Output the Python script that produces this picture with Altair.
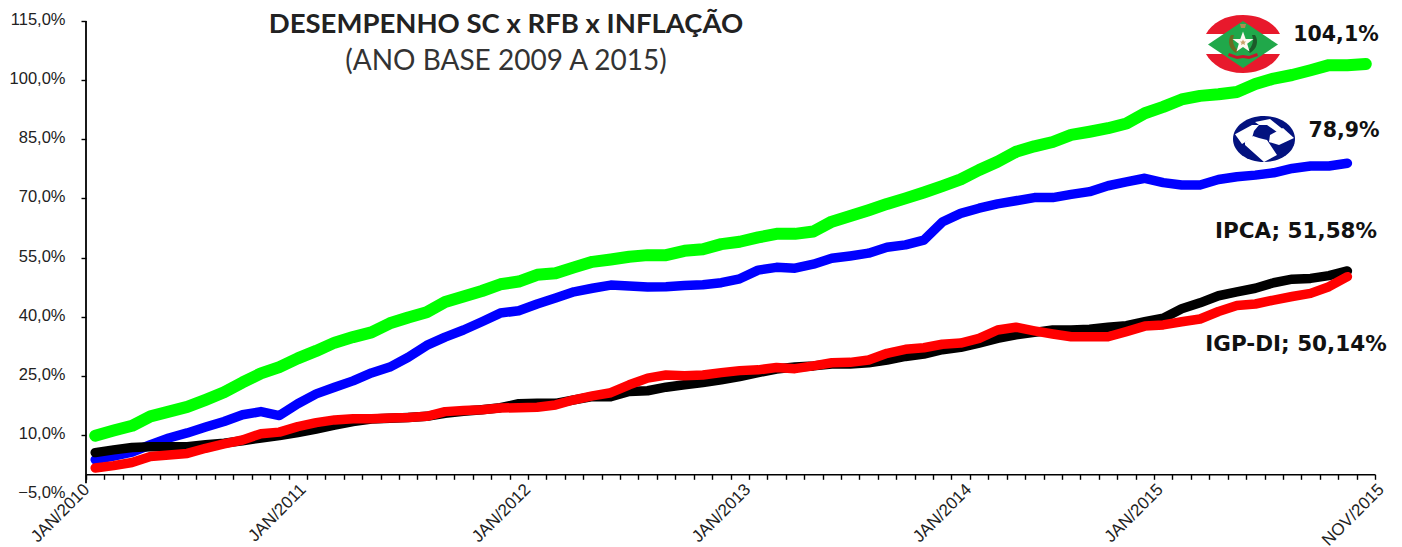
import altair as alt
import pandas as pd

SC = [9.8, 11.1, 12.3, 14.7, 15.9, 17.1, 18.9, 20.8, 23.3, 25.6, 27.2, 29.4, 31.3, 33.4, 34.8, 36.0, 38.3, 39.8, 41.1,
      43.7, 45.1, 46.5, 48.2, 48.9, 50.6, 51.0, 52.5, 53.9, 54.5, 55.2, 55.6, 55.6, 56.7, 57.1, 58.4, 59.0, 60.1,
      61.0, 61.0, 61.6, 64.1, 65.5, 67.0, 68.6, 70.0, 71.5, 73.1, 74.8, 77.2, 79.3, 81.8, 83.2, 84.3,
      86.1, 86.9, 87.8, 89.0, 91.6, 93.2, 95.1, 96.0, 96.4, 97.0, 99.0, 100.4, 101.3, 102.5, 103.8, 103.8, 104.1]
RFB = [3.7, 4.6, 5.6, 7.5, 9.2, 10.5, 12.0, 13.4, 15.1, 15.9, 14.9, 17.9, 20.4, 22.1, 23.7, 25.7, 27.2, 29.7, 32.7,
       34.8, 36.6, 38.7, 40.9, 41.5, 43.2, 44.7, 46.3, 47.2, 48.0, 47.8, 47.5, 47.6, 47.9, 48.1, 48.6, 49.6, 51.8,
       52.5, 52.3, 53.3, 54.8, 55.4, 56.1, 57.6, 58.2, 59.4, 64.0, 66.2, 67.5, 68.6, 69.4, 70.2, 70.2,
       71.0, 71.7, 73.2, 74.2, 75.1, 74.0, 73.4, 73.4, 74.8, 75.5, 75.9, 76.5, 77.6, 78.2, 78.2, 78.9]
IPCA = [5.5, 6.2, 6.8, 7.0, 7.0, 7.0, 7.5, 7.9, 8.5, 9.2, 9.8, 10.6, 11.5, 12.5, 13.4, 14.0,
        14.2, 14.4, 14.7, 15.5, 16.0, 16.4, 16.9, 17.9,
        18.0, 18.0, 18.9, 19.7, 19.7, 21.0, 21.2, 22.1, 22.7, 23.3, 24.0, 24.8,
        25.8, 26.7, 27.2, 27.5, 28.0, 28.0, 28.3, 29.0, 29.9, 30.5, 31.6, 32.2, 33.3, 34.5, 35.4, 36.0, 36.6, 36.6, 36.8,
        37.3, 37.7, 38.7, 39.6, 42.0, 43.5, 45.3, 46.3, 47.2, 48.6, 49.5, 49.7, 50.4, 51.58]
IGP = [1.6, 2.2, 3.0, 4.5, 4.9, 5.3, 6.6, 7.7, 8.7, 10.3, 10.7, 12.1, 13.1, 13.8, 14.1, 14.1, 14.3, 14.4, 14.7,
       15.9, 16.2, 16.4, 16.8, 16.9, 17.0, 17.6, 18.9, 19.9, 20.7, 22.7, 24.4, 25.2, 25.0, 25.2, 25.8, 26.3,
       26.5, 27.1, 26.8, 27.5, 28.3, 28.4, 29.0, 30.7, 31.7, 32.1, 33.0, 33.3, 34.5, 36.6, 37.3, 36.4, 35.6,
       34.9, 34.9, 34.9, 36.2, 37.6, 37.9, 38.7, 39.4, 41.3, 42.8, 43.2, 44.2, 45.1, 45.9, 47.6, 50.14]

Y_TICKS = [-5, 10, 25, 40, 55, 70, 85, 100, 115]
X_LABELS = ["JAN/2010", "JAN/2011", "JAN/2012", "JAN/2013", "JAN/2014", "JAN/2015", "NOV/2015"]
X_LABEL_POS = [0.05, 11.8, 24.0, 35.95, 47.95, 58.35, 70.35]

W, H = 1289, 473
OX, OY = 86, 21
AXIS_FONT = "Liberation Sans"
x_scale = alt.Scale(domain=[0, 70], nice=False, zero=False)
y_scale = alt.Scale(domain=[-5, 115], nice=False, zero=False)


def line(vals, color, width):
    df = pd.DataFrame({"m": [i + 0.5 for i in range(len(vals))], "v": vals})
    return alt.Chart(df).mark_line(color=color, strokeWidth=width, strokeCap="round",
                                   strokeJoin="round", clip=False).encode(
        x=alt.X("m:Q", title=None), y=alt.Y("v:Q", title=None))


axes = alt.Chart(pd.DataFrame({"m": [0], "v": [0]})).mark_point(opacity=0).encode(
    x=alt.X("m:Q", scale=x_scale, title=None, axis=alt.Axis(
        values=list(range(71)), tickCount=71, labels=False, title=None, grid=False, orient="bottom",
        offset=-19.7, domainColor="#000", domainWidth=1.6, tickColor="#000", tickWidth=1.4, tickSize=5)),
    y=alt.Y("v:Q", scale=y_scale, title=None, axis=alt.Axis(
        values=Y_TICKS, labelExpr="replace(format(datum.value, '.1f'), '.', ',') + '%'", title=None, grid=False,
        domain=False, tickColor="#000", tickWidth=1.4, tickSize=5,
        tickOpacity={"condition": {"test": "datum.value == -5", "value": 0}, "value": 1},
        labelFont=AXIS_FONT, labelFontSize=16.5, labelColor="#222", labelPadding=16, labelOffset=-1.5,
        labelOverlap=False)))

y_line = alt.Chart(pd.DataFrame({"m": [0], "a": [-2.3], "b": [115]})).mark_rule(color="#000", strokeWidth=1.8).encode(
    x=alt.X("m:Q", title=None), y=alt.Y("a:Q", title=None), y2="b:Q")

month_labels = alt.Chart(pd.DataFrame({"m": X_LABEL_POS, "t": X_LABELS})).mark_text(
    font=AXIS_FONT, fontSize=17, color="#222", angle=315, align="right", baseline="middle").encode(
    x=alt.X("m:Q", title=None), y=alt.value(466), text="t:N")


def text(s, px, py, size, weight="normal", font=AXIS_FONT, color="#111", align="center"):
    return alt.Chart(pd.DataFrame({"t": [s]})).mark_text(
        font=font, fontSize=size, fontWeight=weight, color=color, align=align, baseline="middle").encode(
        x=alt.value(px - OX), y=alt.value(py - OY), text="t:N")


def shape(path, px, py, color):
    # size 4 makes one path unit equal one pixel
    return alt.Chart(pd.DataFrame({"a": [0]})).mark_point(
        shape=path, size=4, filled=True, fill=color, opacity=1, strokeWidth=0).encode(
        x=alt.value(px - OX), y=alt.value(py - OY))


RED = "#e8192c"
GREEN = "#20a84a"
NAVY = "#03127f"
flag = [
    shape("M-37,-10 C-31,-21 -18,-29 0,-29 C18,-29 31,-21 37,-10 Z", 1243, 44, RED),
    shape("M-37,10 C-31,21 -18,29 0,29 C18,29 31,21 37,10 Z", 1243, 44, RED),
    shape("M-35,0 L0,-23.5 L35,0 L0,23.5 Z", 1243, 44.5, GREEN),
    shape("M-12,-8 C-16,-2 -14,6 -7,10 L-5,8 C-10,3 -11,-3 -9,-8 Z", 1243, 43, "#6b6b20"),
    shape("M12,-8 C16,-2 14,6 7,10 L5,8 C10,3 11,-3 9,-8 Z", 1243, 43, "#1c5a2a"),
    shape("M-14,0 L-6,3 L0,2 L6,3 L14,0 L15,3 L6,6 L0,5 L-6,6 L-15,3 Z", 1243, 53, "#c8152a"),
    shape("M0,-11 L2.7,-3.4 L10.5,-3.4 L4.2,1.3 L6.5,9 L0,4.4 L-6.5,9 L-4.2,1.3 L-10.5,-3.4 L-2.7,-3.4 Z", 1243, 42.5, "#fff8f0"),
    shape("M0,-3 L1,-1 L3,-1 L1.5,0.5 L2,2.5 L0,1.5 L-2,2.5 L-1.5,0.5 L-3,-1 L-1,-1 Z", 1243, 42.5, "#c9a36a"),
    shape("M-3,-4 L3,-4 L2,0 L-2,0 Z", 1243, 28, "#b08a50"),
]
rfb = [
    shape("M-31,0 C-31,-13 -17,-23 0,-23 C17,-23 31,-13 31,0 C31,13 17,23 0,23 C-17,23 -31,13 -31,0 Z", 1264, 139, NAVY),
    shape("M-29,-4.7 L-12,-14 L-5,-14 L-10,-8 L-12,-1 L-22,5 Z", 1264, 139, "#ffffff"),
    shape("M-9,-17 L6,-20 L21,-8 L13,-7 L3,-14 L-5,-14 Z", 1264, 139, "#ffffff"),
    shape("M6,-4 L19,-11 L30,-1 L15,6 L5,3 Z", 1264, 139, "#ffffff"),
    shape("M-19,3 L-11,-3 L-5,-1 L3,1 L13,16 L0,23 L-19,6 Z", 1264, 139, "#ffffff"),
]

labels = [
    text("DESEMPENHO SC  x RFB x INFLAÇÃO", 506, 25, 27.5, "bold", "Lato", "#222"),
    text("(ANO BASE 2009 A 2015)", 506, 62, 28, "normal", "Lato", "#333"),
    text("104,1%", 1336, 35, 20.5, "bold", "DejaVu Sans"),
    text("78,9%", 1344, 131, 20.5, "bold", "DejaVu Sans"),
    text("IPCA; 51,58%", 1296, 232, 21.5, "bold", "DejaVu Sans"),
    text("IGP-DI; 50,14%", 1296, 345, 21.5, "bold", "DejaVu Sans"),
]

chart = alt.layer(
    axes, y_line,
    line(SC, "#00ff00", 12), line(RFB, "#0000ff", 9.5), line(IPCA, "#000000", 9.5), line(IGP, "#ff0000", 9.5),
    month_labels,
    *flag, *rfb, *labels,
).properties(
    width=W, height=H,
    autosize=alt.AutoSizeParams(type="none"),
    padding={"left": OX - 8, "top": OY - 8, "right": 19, "bottom": 52},
    background="#ffffff",
).configure_view(stroke=None)

chart.save("out.html", embed_options={"renderer": "svg", "actions": False})
